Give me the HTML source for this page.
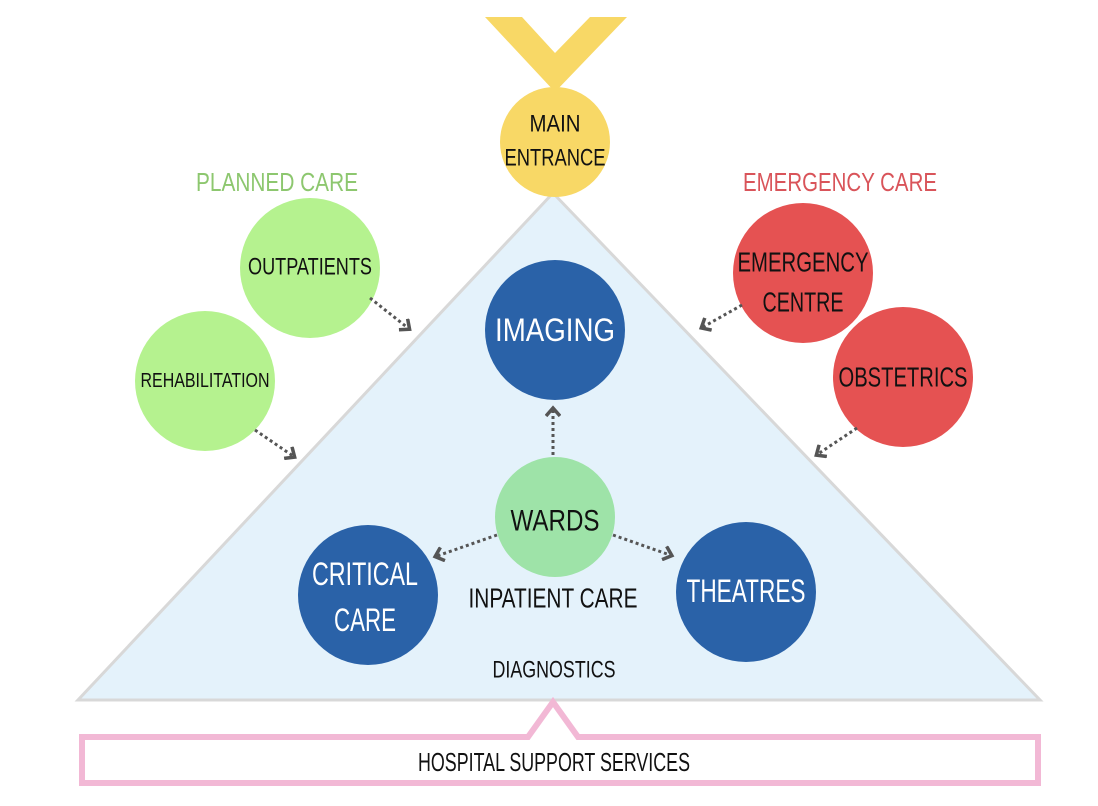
<!DOCTYPE html>
<html><head><meta charset="utf-8"><style>
html,body{margin:0;padding:0;background:#fff;}
svg{display:block;}
text{font-family:"Liberation Sans Narrow","Liberation Sans",sans-serif;text-anchor:middle;dominant-baseline:central;}
</style></head><body>
<svg width="1098" height="806" viewBox="0 0 1098 806" xmlns="http://www.w3.org/2000/svg">
<defs>
<marker id="ah" markerWidth="14" markerHeight="16" refX="8" refY="8" orient="auto" markerUnits="userSpaceOnUse">
<path d="M2,1 L10,8 L2,15" fill="none" stroke="#555" stroke-width="3.5"/>
</marker>
</defs>
<polygon points="553,193 78,700 1040,700" fill="#e4f2fb" stroke="#d8d8d8" stroke-width="3"/>
<path d="M82,737 L528,737 L553,702 L578,737 L1038,737 L1038,783 L82,783 Z" fill="#fff" stroke="#f2b8d5" stroke-width="6"/>
<polygon points="485,17 522,17 555,53 590,17 627,17 555,92" fill="#f8d866"/>
<circle cx="555" cy="142" r="55" fill="#f8d866"/>
<text x="555" y="124" font-size="24" textLength="51" lengthAdjust="spacingAndGlyphs" fill="#111">MAIN</text>
<text x="555" y="158" font-size="24" textLength="101" lengthAdjust="spacingAndGlyphs" fill="#111">ENTRANCE</text>

<text x="277" y="182" font-size="26" fill="#8dc76f" textLength="162" lengthAdjust="spacingAndGlyphs">PLANNED CARE</text>
<text x="840" y="182" font-size="26" fill="#d9545a" textLength="194" lengthAdjust="spacingAndGlyphs">EMERGENCY CARE</text>

<circle cx="310" cy="268" r="70" fill="#b5f28f"/>
<circle cx="205" cy="381" r="70" fill="#b5f28f"/>
<circle cx="803" cy="273" r="70" fill="#e55252"/>
<circle cx="903" cy="377" r="70" fill="#e55252"/>
<circle cx="555" cy="330" r="70" fill="#2a62a8"/>
<circle cx="368" cy="595" r="70" fill="#2a62a8"/>
<circle cx="746" cy="592" r="70" fill="#2a62a8"/>
<circle cx="555" cy="517" r="60" fill="#9ee3a8"/>

<g stroke="#555" stroke-width="3" stroke-dasharray="3,3" fill="none" marker-end="url(#ah)">
<line x1="370" y1="298" x2="408" y2="328"/>
<line x1="255" y1="430" x2="293" y2="456"/>
<line x1="742" y1="305" x2="703" y2="327"/>
<line x1="857" y1="428" x2="818" y2="454"/>
<line x1="553" y1="455" x2="553" y2="410"/>
<line x1="497" y1="535" x2="437" y2="556"/>
<line x1="613" y1="535" x2="670" y2="555"/>
</g>

<text x="310" y="267" font-size="24" textLength="124" lengthAdjust="spacingAndGlyphs" fill="#111">OUTPATIENTS</text>
<text x="205" y="381" font-size="20" textLength="129" lengthAdjust="spacingAndGlyphs" fill="#111">REHABILITATION</text>
<text x="803" y="262" font-size="28" textLength="131" lengthAdjust="spacingAndGlyphs" fill="#111">EMERGENCY</text>
<text x="803" y="302" font-size="28" textLength="81" lengthAdjust="spacingAndGlyphs" fill="#111">CENTRE</text>
<text x="903" y="377" font-size="28" textLength="129" lengthAdjust="spacingAndGlyphs" fill="#111">OBSTETRICS</text>
<text x="555" y="330" font-size="32" textLength="120" lengthAdjust="spacingAndGlyphs" fill="#fff">IMAGING</text>
<text x="555" y="521" font-size="30" textLength="89" lengthAdjust="spacingAndGlyphs" fill="#111">WARDS</text>
<text x="365" y="574" font-size="32" textLength="106" lengthAdjust="spacingAndGlyphs" fill="#fff">CRITICAL</text>
<text x="365" y="620" font-size="32" textLength="62" lengthAdjust="spacingAndGlyphs" fill="#fff">CARE</text>
<text x="746" y="591" font-size="32" textLength="119" lengthAdjust="spacingAndGlyphs" fill="#fff">THEATRES</text>
<text x="553" y="598" font-size="28" textLength="169" lengthAdjust="spacingAndGlyphs" fill="#111">INPATIENT CARE</text>
<text x="554" y="670" font-size="24" textLength="123" lengthAdjust="spacingAndGlyphs" fill="#111">DIAGNOSTICS</text>
<text x="554" y="762" font-size="26" textLength="272" lengthAdjust="spacingAndGlyphs" fill="#111">HOSPITAL SUPPORT SERVICES</text>
</svg>
</body></html>
